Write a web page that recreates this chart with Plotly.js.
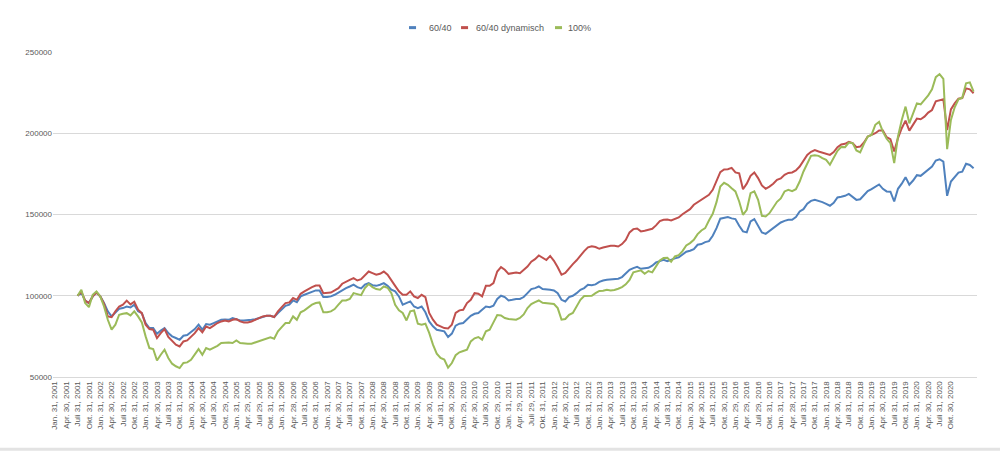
<!DOCTYPE html>
<html>
<head>
<meta charset="utf-8">
<script src="https://cdn.plot.ly/plotly-3.0.1.min.js"></script>
<style>
html,body{margin:0;padding:0;background:#fff;}
#chart{width:1000px;height:453px;}
</style>
</head>
<body>
<div id="chart"></div>
<script>
// Tick labels (every third month on the category axis)
const tickLabels = [
"Jan. 31, 2001","Apr. 30, 2001","Juli 31, 2001","Okt. 31, 2001",
"Jan. 31, 2002","Apr. 30, 2002","Juli 31, 2002","Okt. 31, 2002",
"Jan. 31, 2003","Apr. 30, 2003","Juli 31, 2003","Okt. 31, 2003",
"Jan. 30, 2004","Apr. 30, 2004","Juli 30, 2004","Okt. 29, 2004",
"Jan. 31, 2005","Apr. 29, 2005","Juli 29, 2005","Okt. 31, 2005",
"Jan. 31, 2006","Apr. 28, 2006","Juli 31, 2006","Okt. 31, 2006",
"Jan. 31, 2007","Apr. 30, 2007","Juli 31, 2007","Okt. 31, 2007",
"Jan. 31, 2008","Apr. 30, 2008","Juli 31, 2008","Okt. 31, 2008",
"Jan. 30, 2009","Apr. 30, 2009","Juli 31, 2009","Okt. 30, 2009",
"Jan. 29, 2010","Apr. 30, 2010","Juli 30, 2010","Okt. 29, 2010",
"Jan. 31, 2011","Apr. 29, 2011","Juli 29, 2011","Okt. 31, 2011",
"Jan. 31, 2012","Apr. 30, 2012","Juli 31, 2012","Okt. 31, 2012",
"Jan. 31, 2013","Apr. 30, 2013","Juli 31, 2013","Okt. 31, 2013",
"Jan. 31, 2014","Apr. 30, 2014","Juli 31, 2014","Okt. 31, 2014",
"Jan. 30, 2015","Apr. 30, 2015","Juli 31, 2015","Okt. 30, 2015",
"Jan. 29, 2016","Apr. 29, 2016","Juli 29, 2016","Okt. 31, 2016",
"Jan. 31, 2017","Apr. 28, 2017","Juli 31, 2017","Okt. 31, 2017",
"Jan. 31, 2018","Apr. 30, 2018","Juli 31, 2018","Okt. 31, 2018",
"Jan. 31, 2019","Apr. 30, 2019","Juli 31, 2019","Okt. 31, 2019",
"Jan. 31, 2020","Apr. 30, 2020","Juli 31, 2020","Okt. 30, 2020"
];

const seriesNames = ["60/40", "60/40 dynamisch", "100%"];

// Monthly portfolio values, 60/40
const values6040 = [
100000,102000,97000,95500,99600,102000,99600,95500,90400,87300,
89700,92000,92400,93400,92800,94500,90400,89300,83200,80100,
80100,76600,78600,80100,77000,75000,74000,72900,75400,75800,
77700,79500,82200,79100,82600,82200,83200,84200,85200,85400,
85200,86300,85600,84800,84800,84800,85200,85600,86300,87300,
87700,87700,86900,89300,91800,93800,94500,97100,96000,99600,
100600,101600,102700,103300,103300,99200,99200,99600,100600,102000,
103700,104700,105700,106800,105300,104500,106800,107800,106500,106100,
106800,107800,106100,103700,102700,99600,94500,95500,96500,93400,
92400,93400,89800,84200,81200,79100,78700,78100,74600,76700,
81600,82800,83200,85700,87700,88900,89400,91400,93400,93000,
93900,98000,100000,99200,97100,97500,98000,98000,99200,101600,
104100,104700,105700,104100,104100,103700,103300,101600,97500,96500,
99200,100000,101600,103700,104700,106800,106500,107000,108500,109400,
109800,110000,110300,110500,111500,113500,116000,117000,117800,116600,
116800,117200,118500,120500,121300,122100,121300,122300,123000,123600,
125200,127100,127700,128700,131400,131800,133000,133600,136900,141600,
147400,148000,148400,147600,147200,143100,139600,139000,145700,147200,
142600,139000,138100,139800,141600,143100,145100,146100,146700,146700,
148400,151900,153300,156600,158400,159000,158400,157600,156600,155400,
157200,160500,160900,161500,162700,161100,159000,159400,161900,164400,
165600,167200,168500,165800,164200,164000,158000,165800,169000,173000,
168300,170900,174200,173800,175800,177700,179500,183200,184000,182600,
161500,170300,173400,175800,176400,181200,180500,178500
];

// Monthly portfolio values, 60/40 dynamisch
const values6040dyn = [
100000,102500,97000,95500,99600,102000,99600,95000,87300,86800,
90400,93400,94500,97000,94700,96300,91400,89300,82200,79500,
79100,74000,77000,79500,74600,71900,69900,68800,71900,72500,
74600,77000,80100,77500,81100,80100,81600,83200,84200,84800,
84200,85200,85600,84200,83600,83600,84200,85200,86300,87300,
87700,87700,86900,90400,93000,95500,95900,98600,97500,101200,
102700,104100,105300,106300,106300,101600,101600,102000,103300,104700,
107400,108800,109800,110900,109400,110200,112900,114900,113900,112900,
113500,114900,112900,109800,106100,102700,100600,100600,102700,99600,
98600,100600,99200,89400,85300,82200,81200,80100,79900,82200,
89400,91000,91400,95500,97500,101600,101200,99600,106100,106100,
107800,114900,117600,116000,113500,113900,114300,113900,116000,118000,
121000,122500,124800,123500,122000,124500,121500,117500,112900,114000,
117000,119500,121800,125000,127500,129800,130500,130000,128900,129700,
130300,130800,130800,130300,131800,134400,139000,141000,141400,139600,
140000,140600,141200,143300,145900,146700,146900,146300,147400,148200,
150200,151900,153300,156000,157600,159000,160700,162100,165200,170900,
176100,177700,177900,178700,175900,175400,165500,169000,173800,175900,
172400,167900,165800,167200,168900,171300,172200,174400,175600,175900,
177100,179500,183200,186700,188600,189600,188800,188200,187300,186700,
188400,191400,193100,193500,194700,193900,191400,191800,194300,198000,
199000,200000,201700,201700,197600,196400,188800,197000,203100,207800,
201600,205100,209000,208600,210200,212700,214300,219700,220500,220900,
202000,214700,218400,221300,221700,227600,227000,224600
];

// Monthly portfolio values, 100%
const values100 = [
100000,103700,95500,93000,100600,102700,99600,93400,85200,79100,
82200,88300,88900,89300,87900,90400,87300,83600,75000,67800,
67200,60200,63700,66800,61700,58200,56600,55500,58600,59000,
60600,63700,67200,63700,67800,66800,67800,69200,70900,71300,
71300,70900,72500,70900,70500,70500,70500,71300,71900,72500,
73400,74400,73600,78100,80700,83200,83200,87300,85200,89800,
91000,93000,94500,95500,95900,89800,89800,90400,91800,94500,
97100,97100,98000,101600,100800,100400,104700,107200,105300,104100,
103700,105700,104900,101600,94500,91000,89400,84800,90400,91000,
82800,82200,82800,77100,69900,64400,61700,60700,55800,58600,
63400,65200,66000,66800,71900,73800,74600,73000,78100,79100,
83600,88100,87900,86300,85700,85700,85300,86300,88500,92400,
94900,96100,97100,95700,95300,95300,94900,92400,85300,85700,
88300,89400,93400,97500,99800,100000,100000,101600,103000,103100,
103700,103300,103500,104300,105300,107000,109800,114400,115000,115600,
113500,115200,114400,118500,121700,123200,123400,120900,124200,125000,
127500,131000,132400,134400,137900,140200,141600,146300,150400,157600,
167200,169500,168300,166200,164200,158000,149800,152900,163100,164200,
159000,149200,148800,150800,154500,157800,159900,164200,165200,164400,
165600,170300,176500,181600,186100,186500,186100,184700,183600,180600,
185300,189200,191600,191400,194300,193900,189400,188200,193500,198000,
199000,205200,207000,201000,196600,193900,181600,198000,208200,216400,
206100,212700,218400,217800,220500,223300,227000,234500,236400,233500,
190200,208200,216000,220900,221900,230700,231300,225600
];

const colors = ["#4F81BD", "#C0504D", "#9BBB59"];
const allValues = [values6040, values6040dyn, values100];

// category positions: data begins at the third labelled category (Juli 2001)
const startOffset = 6;
const traces = allValues.map((vals, i) => ({
  type: "scatter",
  mode: "lines",
  name: seriesNames[i],
  x: vals.map((_, k) => k + startOffset),
  y: vals,
  line: {color: colors[i], width: 2},
  hoverinfo: "skip",
  showlegend: false
}));

const tickVals = tickLabels.map((_, k) => k * 3);

const fontFamily = "Liberation Sans, Arial, sans-serif";
const grey = "#595959";

// Compact Excel-style legend: short key line + label, centred above the plot
const legendKeyX = [0.3853, 0.4416, 0.5433];   // paper x of key start
const legendKeyW = 0.0076;
const legendTextX = [0.4048, 0.4556, 0.5552];
const legendY = 1.075;

const shapes = seriesNames.map((_, i) => ({
  type: "line", xref: "paper", yref: "paper",
  x0: legendKeyX[i], x1: legendKeyX[i] + legendKeyW, y0: legendY, y1: legendY,
  line: {color: colors[i], width: 3}
}));
shapes.push({
  type: "line", xref: "paper", yref: "paper",
  x0: -0.06, x1: 1.03, y0: -0.222, y1: -0.222,
  line: {color: "#E3E3E3", width: 3}
});

const annotations = seriesNames.map((n, i) => ({
  text: n, xref: "paper", yref: "paper",
  x: legendTextX[i], y: legendY, xanchor: "left", yanchor: "middle",
  showarrow: false,
  font: {family: fontFamily, size: 9, color: grey}
}));

const layout = {
  width: 1000,
  height: 453,
  margin: {l: 53, r: 23, t: 52, b: 76},
  paper_bgcolor: "#ffffff",
  plot_bgcolor: "#ffffff",
  font: {family: fontFamily, size: 8, color: grey},
  showlegend: false,
  xaxis: {
    range: [-0.5, 243.9],
    tickmode: "array",
    tickvals: tickVals,
    ticktext: tickLabels,
    tickangle: -90,
    showgrid: false,
    zeroline: false,
    showline: true,
    linecolor: "#D9D9D9",
    linewidth: 1,
    ticks: "",
    tickfont: {family: fontFamily, size: 8, color: grey}
  },
  yaxis: {
    range: [50000, 250000],
    tickmode: "linear",
    tick0: 50000,
    dtick: 50000,
    tickformat: "d",
    showgrid: true,
    gridcolor: "#D9D9D9",
    gridwidth: 1,
    zeroline: false,
    showline: false,
    ticks: "",
    tickfont: {family: fontFamily, size: 8, color: grey}
  },
  shapes: shapes,
  annotations: annotations
};

Plotly.newPlot("chart", traces, layout, {staticPlot: true, displayModeBar: false});
</script>
</body>
</html>
